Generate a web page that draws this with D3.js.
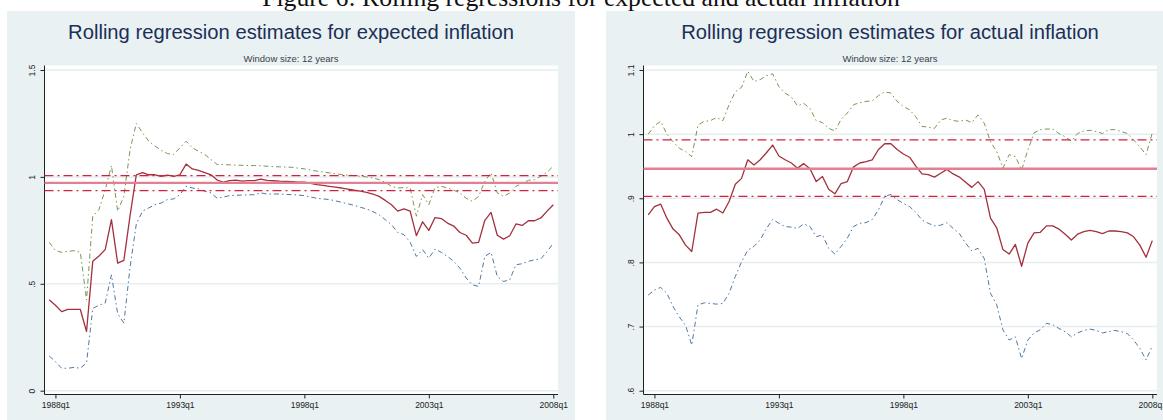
<!DOCTYPE html>
<html><head><meta charset="utf-8">
<script src="https://cdn.jsdelivr.net/npm/d3@7"></script>
<style>
html,body{margin:0;padding:0;background:#fff;}
svg{display:block;}
text{font-family:"Liberation Sans",Arial,Helvetica,sans-serif;}
</style></head>
<body>
<svg id="chart" width="1163" height="420"></svg>
<script>
// ---------- data (quarterly, 1987q4 .. 2008q1) ----------
const startYear = 1987, startQuarter = 4;
const xTickLabels = ["1988q1","1993q1","1998q1","2003q1","2008q1"];

const expTicks = [0, 0.5, 1, 1.5];
const expTickLabels = ["0", ".5", "1", "1.5"];
const actTicks = [0.6, 0.7, 0.8, 0.9, 1.0, 1.1];
const actTickLabels = [".6", ".7", ".8", ".9", "1", "1.1"];

const expEstimate = [0.425,0.40,0.37,0.38,0.38,0.38,0.277,0.605,0.63,0.66,0.80,0.597,0.61,0.82,1.01,1.02,1.01,1.01,1.003,1.008,1.003,1.01,1.06,1.037,1.03,1.02,1.01,0.985,0.975,0.983,0.985,0.98,0.983,0.983,0.99,0.984,0.982,0.98,0.979,0.978,0.976,0.975,0.97,0.964,0.96,0.956,0.952,0.948,0.943,0.9375,0.933,0.928,0.92,0.909,0.89,0.87,0.84,0.85,0.84,0.725,0.79,0.75,0.81,0.805,0.784,0.77,0.74,0.727,0.69,0.694,0.797,0.834,0.727,0.709,0.725,0.78,0.773,0.795,0.795,0.808,0.84,0.87];
const expUpper = [0.694,0.656,0.647,0.652,0.655,0.647,0.425,0.816,0.847,0.94,1.053,0.84,0.91,1.128,1.25,1.206,1.167,1.144,1.125,1.109,1.105,1.136,1.167,1.136,1.12,1.105,1.081,1.058,1.058,1.056,1.055,1.054,1.053,1.053,1.052,1.05,1.048,1.047,1.046,1.045,1.041,1.0375,1.032,1.027,1.023,1.019,1.015,1.011,1.008,1.006,1.003,1.0,0.995,0.9875,0.975,0.956,0.948,0.95,0.948,0.816,0.917,0.87,0.95,0.956,0.948,0.9375,0.925,0.90,0.886,0.909,0.98,1.019,0.925,0.909,0.925,0.956,0.969,0.984,0.9875,1.003,1.022,1.05];
const expLower = [0.1625,0.136,0.105,0.105,0.109,0.105,0.13,0.385,0.40,0.41,0.542,0.36,0.316,0.58,0.78,0.84,0.855,0.87,0.878,0.894,0.897,0.917,0.956,0.948,0.944,0.933,0.925,0.90,0.906,0.9125,0.914,0.915,0.916,0.917,0.925,0.92,0.92,0.92,0.918,0.917,0.915,0.9125,0.906,0.90,0.897,0.894,0.888,0.881,0.874,0.867,0.858,0.85,0.838,0.823,0.80,0.777,0.74,0.73,0.694,0.628,0.66,0.62,0.6625,0.647,0.628,0.605,0.573,0.527,0.495,0.4875,0.628,0.647,0.534,0.511,0.519,0.589,0.594,0.605,0.6125,0.617,0.65,0.69];
const expRefLines = {mean: 0.972, upper: 1.006, lower: 0.936};

const actEstimate = [0.874,0.887,0.891,0.869,0.852,0.843,0.827,0.817,0.877,0.878,0.878,0.883,0.877,0.895,0.922,0.931,0.96,0.952,0.96,0.971,0.983,0.966,0.96,0.955,0.947,0.954,0.946,0.926,0.934,0.914,0.907,0.923,0.926,0.949,0.955,0.957,0.96,0.976,0.985,0.985,0.976,0.969,0.964,0.95,0.938,0.937,0.933,0.939,0.945,0.938,0.933,0.925,0.917,0.926,0.914,0.869,0.854,0.82,0.813,0.828,0.794,0.83,0.846,0.847,0.857,0.857,0.852,0.844,0.835,0.844,0.848,0.85,0.848,0.845,0.849,0.849,0.848,0.846,0.84,0.827,0.808,0.834];
const actUpper = [1.0,1.013,1.02,1.0,0.988,0.978,0.973,0.965,1.014,1.02,1.021,1.026,1.021,1.046,1.066,1.073,1.098,1.082,1.085,1.091,1.094,1.074,1.064,1.058,1.044,1.048,1.04,1.021,1.018,1.009,1.005,1.023,1.033,1.046,1.049,1.051,1.052,1.06,1.066,1.064,1.051,1.043,1.038,1.027,1.012,1.011,1.009,1.022,1.025,1.021,1.02,1.022,1.018,1.03,1.017,0.988,0.973,0.947,0.968,0.965,0.944,0.975,1.002,1.007,1.008,1.008,1.001,0.996,0.989,1.001,1.005,1.006,1.004,1.001,1.007,1.007,1.004,1.001,0.991,0.98,0.968,1.002];
const actLower = [0.749,0.757,0.761,0.752,0.731,0.715,0.702,0.671,0.734,0.737,0.736,0.735,0.736,0.752,0.778,0.801,0.819,0.825,0.835,0.853,0.867,0.861,0.856,0.855,0.853,0.86,0.856,0.84,0.843,0.822,0.813,0.825,0.838,0.856,0.861,0.862,0.867,0.882,0.903,0.906,0.898,0.892,0.887,0.878,0.866,0.861,0.857,0.858,0.862,0.853,0.845,0.83,0.818,0.822,0.806,0.752,0.734,0.695,0.679,0.684,0.65,0.679,0.69,0.695,0.705,0.703,0.697,0.692,0.684,0.69,0.694,0.696,0.694,0.69,0.692,0.694,0.692,0.689,0.679,0.666,0.648,0.67];
const actRefLines = {mean: 0.946, upper: 0.991, lower: 0.903};

// quarter index (0 = 1988q1) for each observation
const quarterIndex = expEstimate.map((d, i) => (startYear - 1988) * 4 + (startQuarter - 1) + i);
const tickQuarterIndex = xTickLabels.map(s => (+s.slice(0,4) - 1988) * 4 + (+s.slice(5) - 1));

// ---------- drawing ----------
const svg = d3.select("#chart");
const C = {
  panelBg: "#e9f1f3", grid: "#e6eef0", axis: "#222", title: "#1c2f57",
  est: "#a3303d", upper: "#6a8a3e", lower: "#3e6797",
  refMean: "#e27f93", refBand: "#d2213f"
};

// figure heading (cut at top in reference)
const head = svg.append("text")
  .attr("x", 581).attr("y", 5.5).attr("text-anchor", "middle")
  .style("font-family", '"Liberation Serif","DejaVu Serif",serif')
  .style("font-size", "26px").attr("fill", "#111")
  .text("Figure 6: Rolling regressions for expected and actual inflation");
{
  const w = head.node().getComputedTextLength();
  head.style("font-size", (26 * 638 / w) + "px");
}

let titleSize = null;

function panel(opts) {
  const g = svg.append("g");
  const px = opts.panelX, pw = 568, py = 11;
  g.append("rect").attr("x", px).attr("y", py).attr("width", pw).attr("height", 420 - py).attr("fill", C.panelBg);

  const plotL = px + 37.5, plotR = px + pw - 17, plotT = 65.5, plotB = 394.5;
  g.append("rect").attr("x", plotL).attr("y", plotT).attr("width", plotR - plotL).attr("height", plotB - plotT).attr("fill", "#fff");

  const x = d3.scaleLinear().domain([quarterIndex[0], quarterIndex[quarterIndex.length - 1]]).range([plotL + 4.7, plotR - 4.7]);
  const y = d3.scaleLinear().domain(opts.yDomain).range([390.7, 70]);

  // title
  const t = g.append("text").attr("x", px + pw / 2).attr("y", 39).attr("text-anchor", "middle")
    .attr("fill", C.title).style("font-size", "19px").text(opts.title);
  if (titleSize === null) {
    const w = t.node().getComputedTextLength();
    titleSize = 19 * 446 / w;
  }
  t.style("font-size", titleSize + "px");
  g.append("text").attr("x", px + pw / 2).attr("y", 61.5).attr("text-anchor", "middle")
    .attr("fill", "#3a3f4a").style("font-size", "9.5px").text("Window size: 12 years");

  // gridlines
  g.selectAll(".grid").data(opts.ticks).enter().append("line")
    .attr("x1", plotL).attr("x2", plotR).attr("y1", d => y(d)).attr("y2", d => y(d))
    .attr("stroke", C.grid).attr("stroke-width", 1.5);

  // y axis
  const yAxis = d3.axisLeft(y).tickValues(opts.ticks).tickFormat((d, i) => opts.tickLabels[i]).tickSize(4).tickPadding(3);
  const ya = g.append("g").attr("transform", `translate(${plotL},0)`).call(yAxis);
  ya.select(".domain").attr("d", `M0,${plotT}V${plotB}`).attr("stroke", C.axis);
  ya.selectAll(".tick line").attr("stroke", C.axis);
  ya.selectAll(".tick text").attr("fill", "#222").style("font-size", "8.5px")
    .attr("text-anchor", "middle").attr("x", null).attr("dy", null)
    .attr("transform", "translate(-10,0) rotate(-90)");

  // x axis
  const xAxis = d3.axisBottom(x).tickValues(tickQuarterIndex).tickFormat((d, i) => xTickLabels[i]).tickSize(4).tickPadding(3);
  const xa = g.append("g").attr("transform", `translate(0,${plotB})`).call(xAxis);
  xa.select(".domain").attr("d", `M${plotL},0H${plotR}`).attr("stroke", C.axis);
  xa.selectAll(".tick line").attr("stroke", C.axis);
  xa.selectAll(".tick text").attr("fill", "#222").style("font-size", "8.5px");

  const line = d3.line().x((d, i) => x(quarterIndex[i])).y(d => y(d));
  const ciDash = "5,3,1.5,3";
  g.append("path").datum(opts.upper).attr("d", line).attr("fill", "none")
    .attr("stroke", C.upper).attr("stroke-width", 1).attr("stroke-dasharray", ciDash).attr("opacity", 0.9);
  g.append("path").datum(opts.lower).attr("d", line).attr("fill", "none")
    .attr("stroke", C.lower).attr("stroke-width", 1).attr("stroke-dasharray", ciDash).attr("opacity", 0.9);
  g.append("path").datum(opts.est).attr("d", line).attr("fill", "none")
    .attr("stroke", C.est).attr("stroke-width", 1.3).attr("stroke-linejoin", "round");

  // reference lines
  const refs = [
    {v: opts.ref.mean, c: C.refMean, w: 2.4, dash: null},
    {v: opts.ref.upper, c: C.refBand, w: 1.3, dash: "9,4,2,4"},
    {v: opts.ref.lower, c: C.refBand, w: 1.3, dash: "9,4,2,4"}
  ];
  refs.forEach(r => {
    g.append("line").attr("x1", plotL).attr("x2", plotR).attr("y1", y(r.v)).attr("y2", y(r.v))
      .attr("stroke", r.c).attr("stroke-width", r.w).attr("stroke-dasharray", r.dash);
  });
}

panel({panelX: 7, title: "Rolling regression estimates for expected inflation",
  yDomain: [0, 1.5], ticks: expTicks, tickLabels: expTickLabels,
  est: expEstimate, upper: expUpper, lower: expLower, ref: expRefLines});
panel({panelX: 606, title: "Rolling regression estimates for actual inflation",
  yDomain: [0.6, 1.1], ticks: actTicks, tickLabels: actTickLabels,
  est: actEstimate, upper: actUpper, lower: actLower, ref: actRefLines});
</script>
</body></html>
